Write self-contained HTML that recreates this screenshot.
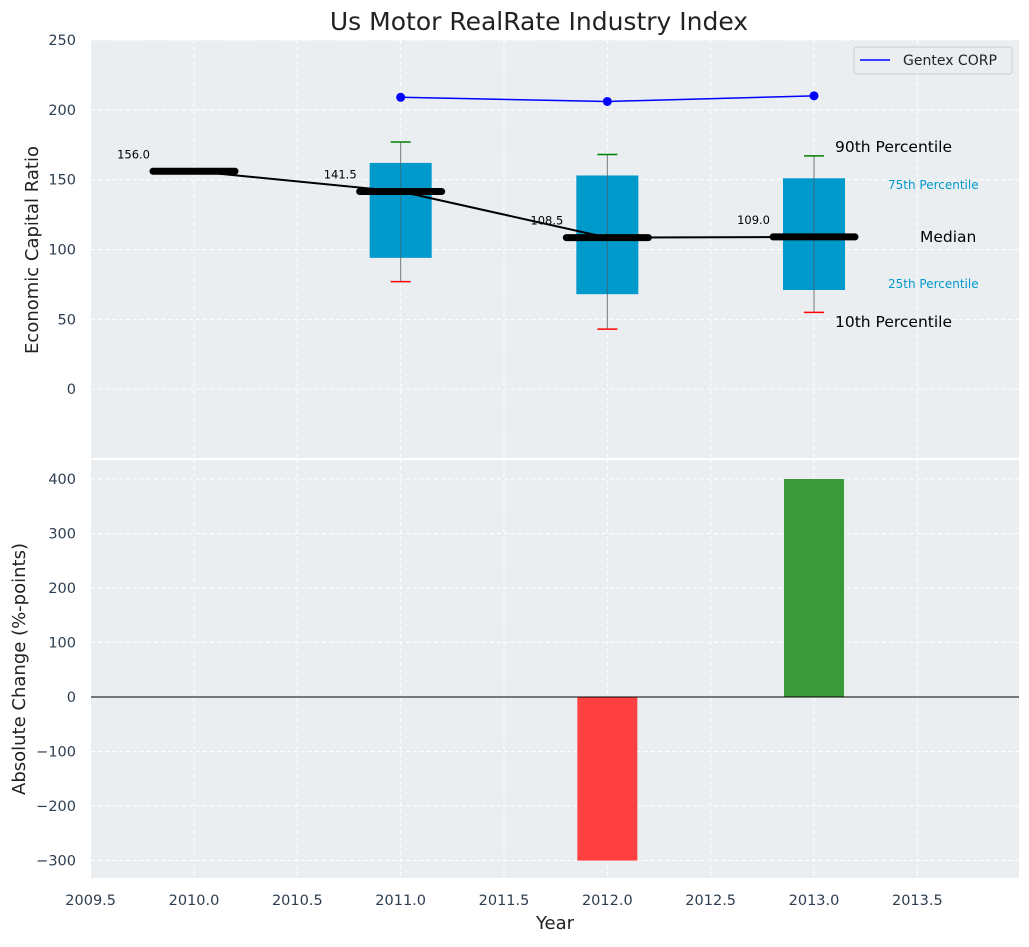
<!DOCTYPE html>
<html><head><meta charset="utf-8"><style>
body{margin:0;background:#fff;font-family:"Liberation Sans","DejaVu Sans",sans-serif}
svg text{font-family:"DejaVu Sans","Liberation Sans",sans-serif}
</style></head><body>
<svg id="c" width="1029" height="942" xmlns="http://www.w3.org/2000/svg"></svg>
<script>
const years=[2010,2011,2012,2013];
const medians=[156.0,141.5,108.5,109.0];
const p75=[null,162,153,151];
const p25=[null,94,68,71];
const p90=[null,177,168,167];
const p10=[null,77,43,55];
const gentexYears=[2011,2012,2013];
const gentex=[209,206,210];
const changeYears=[2012,2013];
const changes=[-300,400];
const xTicks=[2009.5,2010.0,2010.5,2011.0,2011.5,2012.0,2012.5,2013.0,2013.5];
const yTopTicks=[0,50,100,150,200,250];
const yBotTicks=[-300,-200,-100,0,100,200,300,400];

const NS="http://www.w3.org/2000/svg";
const svg=document.getElementById('c');
function el(t,a,p){const e=document.createElementNS(NS,t);for(const k in a)e.setAttribute(k,a[k]);(p||svg).appendChild(e);return e;}
const L=91,R=1019;
const X=v=>194+(v-2010)*206.67;
const T0=40,T1=459,B0=459,B1=878;
const YT=v=>T0+(250-v)/300*(T1-T0);
const YB=v=>B0+(436.7-v)/(436.7+332)*(B1-B0);

let bg=el('rect',{x:L,y:T0,width:R-L,height:T1-T0,fill:'#eaeef0'});

let bg2=el('rect',{x:L,y:B0+1,width:R-L,height:B1-B0-1,fill:'#eaeef0'});

el('line',{x1:L,x2:R,y1:459,y2:459,stroke:'#fff','stroke-width':2});
xTicks.forEach(v=>{
 [[T0,T1],[B0,B1]].forEach(([a,b])=>el('line',{x1:X(v),x2:X(v),y1:a,y2:b,stroke:'#fff','stroke-dasharray':'4,3','stroke-width':1}));
 const t=el('text',{x:X(v),y:905,'text-anchor':'middle','font-size':14.5,fill:'#2d3e50'});t.textContent=v.toFixed(1);
 
});
yTopTicks.forEach(v=>{
 el('line',{x1:L,x2:R,y1:YT(v),y2:YT(v),stroke:'#fff','stroke-dasharray':'4,3'});
 const t=el('text',{x:76,y:YT(v)+5,'text-anchor':'end','font-size':14.5,fill:'#2d3e50'});t.textContent=v;
 
});
yBotTicks.forEach(v=>{
 el('line',{x1:L,x2:R,y1:YB(v),y2:YB(v),stroke:'#fff','stroke-dasharray':'4,3'});
 const t=el('text',{x:76,y:YB(v)+5,'text-anchor':'end','font-size':14.5,fill:'#2d3e50'});t.textContent=(v<0?'\u2212'+(-v):v);
 
});
years.forEach((y,i)=>{
 if(p75[i]!=null){
  el('line',{x1:X(y),x2:X(y),y1:YT(p90[i]),y2:YT(p10[i]),stroke:'#777','stroke-width':1});
  const b=el('rect',{x:X(y)-31,y:YT(p75[i]),width:62,height:YT(p25[i])-YT(p75[i]),fill:'#0099cc'});
  
  el('line',{x1:X(y),x2:X(y),y1:YT(p75[i]),y2:YT(p25[i]),stroke:'#555','stroke-width':1,opacity:0.6});
  el('line',{x1:X(y)-10,x2:X(y)+10,y1:YT(p90[i]),y2:YT(p90[i]),stroke:'green','stroke-width':1.5});
  el('line',{x1:X(y)-10,x2:X(y)+10,y1:YT(p10[i]),y2:YT(p10[i]),stroke:'red','stroke-width':1.5});
 }
});
const ml=el('polyline',{points:years.map((y,i)=>X(y)+','+YT(medians[i])).join(' '),fill:'none',stroke:'#000','stroke-width':2});

years.forEach((y,i)=>{
 const m=el('line',{x1:X(y)-41,x2:X(y)+41,y1:YT(medians[i]),y2:YT(medians[i]),stroke:'#000','stroke-width':7,'stroke-linecap':'round'});
 
 const t=el('text',{x:X(y)-44,y:YT(medians[i])-13,'text-anchor':'end','font-size':11.5,fill:'#000'});t.textContent=medians[i].toFixed(1);
 
});
const gl=el('polyline',{points:gentexYears.map((y,i)=>X(y)+','+YT(gentex[i])).join(' '),fill:'none',stroke:'#0000ff','stroke-width':1.5});

gentexYears.forEach((y,i)=>{const c=el('circle',{cx:X(y),cy:YT(gentex[i]),r:4.5,fill:'#0000ff'});
 });
[['90th Percentile',835,152,15.5,'#000'],['75th Percentile',888,189,12,'#0099cc'],['Median',920,242,15.5,'#000'],['25th Percentile',888,288,12,'#0099cc'],['10th Percentile',835,327,15.5,'#000']].forEach(a=>{
 const t=el('text',{x:a[1],y:a[2],'font-size':a[3],fill:a[4]});t.textContent=a[0];
 
});
const lg=el('g',{});
el('rect',{x:854,y:47,width:158,height:27,fill:'#eaeef0',stroke:'#ccc',rx:3},lg);
el('line',{x1:860,x2:890,y1:60,y2:60,stroke:'#0000ff','stroke-width':1.5},lg);
const lt=el('text',{x:903,y:65,'font-size':14,fill:'#222'},lg);lt.textContent='Gentex CORP';
changeYears.forEach((y,i)=>{
 const v=changes[i];
 const b=el('rect',{x:X(y)-30,y:Math.min(YB(0),YB(v)),width:60,height:Math.abs(YB(v)-YB(0)),fill:v<0?'#ff4040':'#3a9a3a'});
 
});
el('line',{x1:L,x2:R,y1:YB(0),y2:YB(0),stroke:'#000','stroke-width':1});
const ti=el('text',{x:539,y:30,'text-anchor':'middle','font-size':25,fill:'#222'});ti.textContent='Us Motor RealRate Industry Index';

const xt=el('text',{x:555,y:929,'text-anchor':'middle','font-size':18,fill:'#222'});xt.textContent='Year';

const y1=el('text',{x:38,y:250,'text-anchor':'middle','font-size':18,fill:'#222',transform:'rotate(-90 38 250)'});y1.textContent='Economic Capital Ratio';

const y2=el('text',{x:25,y:669,'text-anchor':'middle','font-size':18,fill:'#222',transform:'rotate(-90 25 669)'});y2.textContent='Absolute Change (%-points)';

</script>
</body></html>
